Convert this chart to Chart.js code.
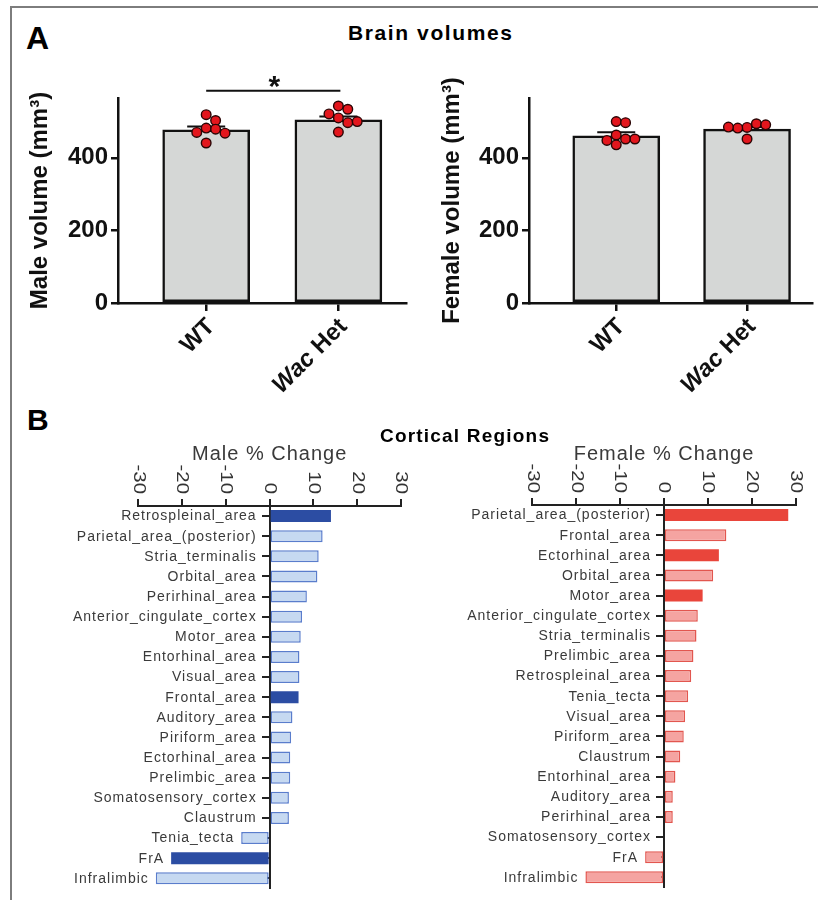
<!DOCTYPE html>
<html><head><meta charset="utf-8">
<script src="https://cdn.jsdelivr.net/npm/chart.js@4.4.1/dist/chart.umd.min.js"></script>
<style>
html,body{margin:0;padding:0;background:#fff;}
#page{position:relative;width:818px;height:900px;overflow:hidden;font-family:"Liberation Sans",Arial,Helvetica,sans-serif;}
canvas{position:absolute;}
.frame{position:absolute;left:10px;top:6px;width:830px;height:900px;border-left:2px solid #7d7d7d;border-top:2px solid #7d7d7d;}
.lbl{position:absolute;font-weight:bold;color:#000;white-space:nowrap;z-index:5;}
</style></head><body><div id="page">
<div class="frame"></div>
<canvas id="c1" width="400" height="340" style="left:12px;top:60px"></canvas>
<canvas id="c2" width="394" height="340" style="left:424px;top:60px"></canvas>
<canvas id="c3" width="400" height="460" style="left:12px;top:440px"></canvas>
<canvas id="c4" width="394" height="460" style="left:424px;top:440px"></canvas>
<div class="lbl" style="left:26px;top:22px;font-size:32px;line-height:32px;">A</div>
<div class="lbl" style="left:27px;top:405px;font-size:30px;line-height:30px;">B</div>
<div class="lbl" style="left:348px;top:22px;font-size:21px;line-height:21px;letter-spacing:1.6px;">Brain volumes</div>
<div class="lbl" style="left:380px;top:426px;font-size:19px;line-height:19px;letter-spacing:1.2px;">Cortical Regions</div>
</div>
<script>
// ---------- data ----------
const volCategories = ['WT', 'Wac Het'];
const volTicks = [0, 200, 400];
const maleMeans = [477, 505];
const maleSem = [9.5, 9.2];
const maleWT = [519, 503, 482, 479, 470, 468, 441];
const maleHet = [543, 534, 521, 510, 497, 500, 471];
const femaleMeans = [461, 479];
const femaleSem = [9.4, 6.1];
const femaleWT = [500, 497, 463, 452, 436, 448, 452];
const femaleHet = [484, 494, 482, 491, 485, 452];

const pctTicks = [-30, -20, -10, 0, 10, 20, 30];
const maleRegions = ['Retrospleinal_area','Parietal_area_(posterior)','Stria_terminalis','Orbital_area','Perirhinal_area','Anterior_cingulate_cortex','Motor_area','Entorhinal_area','Visual_area','Frontal_area','Auditory_area','Piriform_area','Ectorhinal_area','Prelimbic_area','Somatosensory_cortex','Claustrum','Tenia_tecta','FrA','Infralimbic'];
const maleChange = [14.0, 12.1, 11.2, 10.9, 8.5, 7.4, 7.1, 6.8, 6.8, 6.6, 5.2, 4.9, 4.7, 4.7, 4.4, 4.4, -6.5, -22.5, -26.0];
const maleSig = [1,0,0,0,0,0,0,0,0,1,0,0,0,0,0,0,0,1,0];
const femaleRegions = ['Parietal_area_(posterior)','Frontal_area','Ectorhinal_area','Orbital_area','Motor_area','Anterior_cingulate_cortex','Stria_terminalis','Prelimbic_area','Retrospleinal_area','Tenia_tecta','Visual_area','Piriform_area','Claustrum','Entorhinal_area','Auditory_area','Perirhinal_area','Somatosensory_cortex','FrA','Infralimbic'];
const femaleChange = [28.3, 14.2, 12.5, 11.2, 8.8, 7.7, 7.4, 6.7, 6.2, 5.5, 4.8, 4.5, 3.7, 2.6, 2.0, 2.0, 0, -4.3, -17.9];
const femaleSig = [1,0,1,0,1,0,0,0,0,0,0,0,0,0,0,0,0,0,0];

// ---------- helpers ----------
const FONT = '"Liberation Sans", Arial, Helvetica, sans-serif';
Chart.defaults.font.family = FONT;

function swarm(vals, cx, pxX, pxY, minD, step) {
  const placed = [];
  return vals.map(v => {
    for (let k = 0; k < 30; k++) {
      const off = k === 0 ? 0 : (k % 2 ? 1 : -1) * Math.ceil(k / 2) * step;
      const ok = placed.every(p => Math.hypot(p.ox - off, (p.v - v) * pxY) >= minD);
      if (ok) { placed.push({ox: off, v}); return {x: cx + off / pxX, y: v}; }
    }
    return {x: cx, y: v};
  });
}

function volumeChart(id, o) {
  const pxX = 133.3, pxY = 205 / 565;
  const dots = [];
  o.groups.forEach((g, i) => dots.push(...swarm(g, i + 1, pxX, pxY, 8, 9.5)));
  const extras = {
    id: 'volExtras',
    afterDatasetDraw(chart, args) {
      if (args.index !== 0) return;
      const ctx = chart.ctx, xs = chart.scales.x, ys = chart.scales.y;
      ctx.save();
      ctx.strokeStyle = '#111'; ctx.lineWidth = 2;
      o.means.forEach((m, i) => {
        const x = xs.getPixelForValue(i + 1);
        const y0 = ys.getPixelForValue(m), y1 = ys.getPixelForValue(m + o.sem[i]);
        ctx.beginPath(); ctx.moveTo(x, y0); ctx.lineTo(x, y1);
        ctx.moveTo(x - 19, y1); ctx.lineTo(x + 19, y1); ctx.stroke();
      });
      ctx.restore();
    },
    afterDraw(chart) {
      const ctx = chart.ctx, xs = chart.scales.x, ys = chart.scales.y;
      const base = chart.chartArea.bottom;
      ctx.save();
      ctx.fillStyle = '#111'; ctx.textBaseline = 'middle';
      volCategories.forEach((c, i) => {
        const x = xs.getPixelForValue(i + 1);
        ctx.save();
        ctx.translate(x + 5, base + 20);
        ctx.rotate(-Math.PI / 4);
        const parts = c === 'Wac Het' ? [['Wac', 'italic bold'], [' Het', 'bold']] : [[c, 'bold']];
        let total = 0;
        parts.forEach(p => { ctx.font = p[1] + ' 24px ' + FONT; total += ctx.measureText(p[0]).width; });
        let cx = -total;
        ctx.textAlign = 'left';
        parts.forEach(p => { ctx.font = p[1] + ' 24px ' + FONT; ctx.fillText(p[0], cx, 0); cx += ctx.measureText(p[0]).width; });
        ctx.restore();
      });
      if (o.sig) {
        const xa = xs.getPixelForValue(1), xb = xs.getPixelForValue(2);
        const y = ys.getPixelForValue(585);
        ctx.strokeStyle = '#111'; ctx.lineWidth = 2;
        ctx.beginPath(); ctx.moveTo(xa, y); ctx.lineTo(xb + 2, y); ctx.stroke();
        ctx.font = 'bold 30px ' + FONT; ctx.textAlign = 'center'; ctx.textBaseline = 'alphabetic';
        ctx.fillText('*', (xa + xb) / 2 + 2, y + 5);
      }
      ctx.restore();
    }
  };
  new Chart(document.getElementById(id), {
    type: 'scatter',
    data: {datasets: [
      {type: 'bar', data: o.means.map((m, i) => ({x: i + 1, y: m})), backgroundColor: '#d5d7d6', borderColor: '#111', borderWidth: 2.5, borderSkipped: false, barThickness: 87, order: 2},
      {type: 'scatter', data: dots, pointRadius: 4.8, pointBorderWidth: 1.4, pointBackgroundColor: '#e3161d', pointBorderColor: '#2a0505', order: 1}
    ]},
    options: {
      responsive: false, animation: false, devicePixelRatio: 1,
      layout: {padding: {left: 0, top: 38, right: o.padRight, bottom: 0}},
      plugins: {legend: {display: false}, tooltip: {enabled: false}},
      scales: {
        x: {type: 'linear', min: 0.333, max: o.xMax, offset: false, bounds: 'data',
          afterBuildTicks: s => { s.ticks = [1, 2].map(v => ({value: v})); },
          afterFit: s => { s.height = 97; },
          ticks: {display: false},
          grid: {offset: false, drawOnChartArea: false, tickLength: 8, color: '#111', lineWidth: 2.5},
          border: {color: '#111', width: 2.5}},
        y: {type: 'linear', min: 0, max: 565,
          afterBuildTicks: s => { s.ticks = volTicks.map(v => ({value: v})); },
          afterFit: s => { s.width = o.yW; },
          ticks: {color: '#111', font: {size: 24, weight: 'bold'}, padding: 3},
          grid: {drawOnChartArea: false, tickLength: 7, color: '#111', lineWidth: 2.5},
          border: {color: '#111', width: 2.5},
          title: {display: true, text: o.title, color: '#111', font: {size: 24, weight: 'bold'}, padding: {top: 14, bottom: 0}}}
      }
    },
    plugins: [extras]
  });
}

volumeChart('c1', {means: maleMeans, sem: maleSem, groups: [maleWT, maleHet], title: 'Male volume (mm³)', xMax: 2.51, padRight: 4, yW: 106, sig: true});
volumeChart('c2', {means: femaleMeans, sem: femaleSem, groups: [femaleWT, femaleHet], title: 'Female volume (mm³)', xMax: 2.495, padRight: 0, yW: 105, sig: false});

function pctChart(id, o) {
  const extras = {
    id: 'pctExtras',
    beforeDraw(chart) { chart.ctx.letterSpacing = '1px'; },
    afterDraw(chart) {
      const ctx = chart.ctx, xs = chart.scales.x, ys = chart.scales.y;
      const top = chart.chartArea.top;
      ctx.save();
      ctx.fillStyle = '#333';
      ctx.letterSpacing = '0px';
      ctx.font = '17px ' + FONT; ctx.textAlign = 'right'; ctx.textBaseline = 'middle';
      pctTicks.forEach(v => {
        const px = xs.getPixelForValue(v);
        ctx.save(); ctx.translate(px, top - 12); ctx.rotate(Math.PI / 2); ctx.scale(1.2, 1);
        ctx.fillText(String(v), 0, 0); ctx.restore();
      });
      ctx.font = '14px ' + FONT; ctx.letterSpacing = '1px'; ctx.fillStyle = '#3a3a3a';
      const zero = xs.getPixelForValue(0);
      o.labels.forEach((l, i) => {
        const v = o.values[i];
        const y = ys.getPixelForValue(i);
        const x = v < 0 ? xs.getPixelForValue(v) - 7 : zero - 13;
        ctx.fillText(l, x, y + 0.5);
      });
      ctx.restore();
    }
  };
  new Chart(document.getElementById(id), {
    type: 'bar',
    data: {labels: o.labels, datasets: [{
      data: o.values,
      backgroundColor: o.sig.map(s => s ? o.dark : o.light),
      borderColor: o.sig.map(s => s ? o.dark : o.lightBorder),
      borderWidth: o.sig.map(s => s ? 0 : 1.5),
      borderSkipped: false, barPercentage: 0.6, categoryPercentage: 1
    }]},
    options: {
      indexAxis: 'y', responsive: false, animation: false, devicePixelRatio: 1,
      layout: {padding: o.pad},
      plugins: {legend: {display: false}, tooltip: {enabled: false}},
      scales: {
        x: {position: 'top', min: -30, max: 30,
          afterBuildTicks: s => { s.ticks = pctTicks.map(v => ({value: v})); },
          afterFit: s => { s.height = o.xH; },
          ticks: {display: false},
          grid: {drawOnChartArea: false, tickLength: 7, color: '#222', lineWidth: 2},
          border: {color: '#222', width: 2},
          title: {display: true, text: o.title, color: '#3a3a3a', font: {size: 20}, padding: {top: 2, bottom: 0}}},
        y: {position: {x: 0}, z: 1,
          ticks: {display: false},
          grid: {drawOnChartArea: false, offset: false, tickLength: 7, color: '#222', lineWidth: 2},
          border: {color: '#222', width: 2}}
      }
    },
    plugins: [extras]
  });
}

pctChart('c3', {labels: maleRegions, values: maleChange, sig: maleSig, title: 'Male % Change',
  dark: '#2c4da3', light: '#c6d9f1', lightBorder: '#5a7dcc',
  pad: {left: 126.3, right: 11, top: 0, bottom: 11.6}, xH: 66});
pctChart('c4', {labels: femaleRegions, values: femaleChange, sig: femaleSig, title: 'Female % Change',
  dark: '#e9453b', light: '#f5a4a1', lightBorder: '#e2564f',
  pad: {left: 108.3, right: 22.3, top: 0, bottom: 12.6}, xH: 65});
</script>
</body></html>
